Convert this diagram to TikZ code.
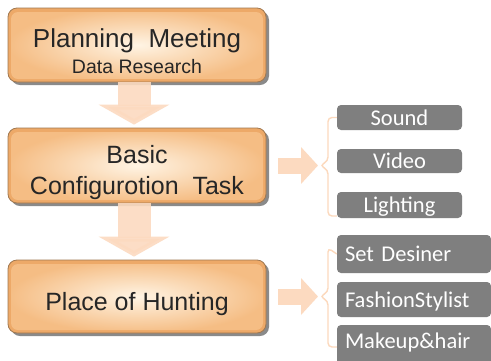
\documentclass[tikz,border=0pt]{standalone}
\usepackage{fontspec}
\setmainfont{Liberation Sans}
\newfontfamily\calib{Carlito}
\usetikzlibrary{arrows.meta,shadows,calc}
\definecolor{boxedge}{HTML}{EDA968}
\definecolor{boxrim}{HTML}{A07850}
\definecolor{boxout}{HTML}{F5BD84}
\definecolor{boxin}{HTML}{FFF4E4}
\definecolor{arrowcol}{HTML}{FCDAC0}
\definecolor{brackcol}{HTML}{FCD9BD}
\definecolor{graybox}{HTML}{7F7F7F}
\definecolor{shadowcol}{HTML}{8A8A8A}
\tikzset{
  mainbox/.style={minimum width=258pt, minimum height=74pt, rounded corners=9pt,
    draw=boxrim, line width=0.8pt, fill=boxedge,
    drop shadow={shadow xshift=3pt, shadow yshift=-3pt, fill=shadowcol, opacity=1},
    path picture={
      \shade[rounded corners=7pt, inner color=boxin, outer color=boxout]
        ([xshift=3pt,yshift=3pt]path picture bounding box.south west) rectangle
        ([xshift=-3pt,yshift=-4pt]path picture bounding box.north east);
    }},
  maintxt/.style={text=black!85, inner sep=0pt, anchor=base},
  bigarrow/.style={draw=arrowcol, line width=33pt, opacity=0.9,
    -{Triangle[width=70pt,length=20pt]}},
  sidearrow/.style={draw=arrowcol, line width=16pt,
    -{Triangle[width=36pt,length=17pt]}},
  graytag/.style={fill=graybox, rounded corners=4pt, inner sep=0pt,
    text=white, font=\calib\fontsize{22.5}{26}\selectfont,
    text height=15pt, text depth=0pt},
  brack/.style={draw=brackcol, line width=1.4pt, rounded corners=4pt},
}
\begin{document}
\begin{tikzpicture}[x=1pt,y=-1pt]
\useasboundingbox[fill=white] (0,0) rectangle (491,360);

% main boxes
\node[mainbox] (b1) at (137,45) {};
\node[mainbox, minimum height=75pt] (b2) at (137,165.5) {};
\node[mainbox, minimum height=73pt] (b3) at (137,296.5) {};

% main texts
\node[maintxt, font=\fontsize{26}{30}\selectfont] (b1a) at (137,47) {Planning\ \ Meeting};
\node[maintxt, font=\fontsize{19.5}{24}\selectfont] (b1b) at (137,73) {Data Research};
\node[maintxt, font=\fontsize{25}{30}\selectfont] (b2a) at (137,163) {Basic};
\node[maintxt, font=\fontsize{25}{30}\selectfont] (b2b) at (137,194) {Configurotion\ \ Task};
\node[maintxt, font=\fontsize{25}{30}\selectfont] (b3a) at (137,310) {Place\ of\ Hunting};

% down arrows
\draw[bigarrow] ([xshift=-3pt]b1.south) -- ([xshift=-3pt,yshift=3pt]b2.north);
\draw[bigarrow] ([xshift=-3pt]b2.south) -- ([xshift=-3pt,yshift=3pt]b3.north);

% gray tags group 1
\node[graytag, minimum width=125pt, minimum height=25pt] (s1) at (399.5,117.5) {Sound};
\node[graytag, minimum width=125pt, minimum height=24pt] (s2) at (399.5,161) {Video};
\node[graytag, minimum width=125pt, minimum height=26pt] (s3) at (399.5,205) {Lighting};

% gray tags group 2
\node[graytag, minimum width=154pt, minimum height=38pt, text width=138pt, align=left] (t1) at (414,254) {Set Desiner};
\node[graytag, minimum width=154pt, minimum height=35pt, text width=138pt, align=left] (t2) at (414,299.5) {FashionStylist};
\node[graytag, minimum width=154pt, minimum height=46pt, text width=138pt, align=left, text height=8pt, text depth=8pt] (t3) at (414,348) {Makeup\&hair};

% brackets
\coordinate (m1) at (320,165.5);
\coordinate (m2) at (320,296.5);
\draw[brack] (s1.west) -- (328,117.5) -- (328,161) -- (m1) -- (328,170) -- (328,216) -- (s3.west |- 0,216);
\draw[brack] (t1.west) -- (328,248) -- (328,292) -- (m2) -- (328,301) -- (328,347) -- (t3.west |- 0,347);

% side arrows
\draw[sidearrow] ([xshift=12pt]b2.east) -- ([xshift=-2pt]m1);
\draw[sidearrow] ([xshift=12pt]b3.east) -- ([xshift=-2pt]m2);
\end{tikzpicture}
\end{document}
